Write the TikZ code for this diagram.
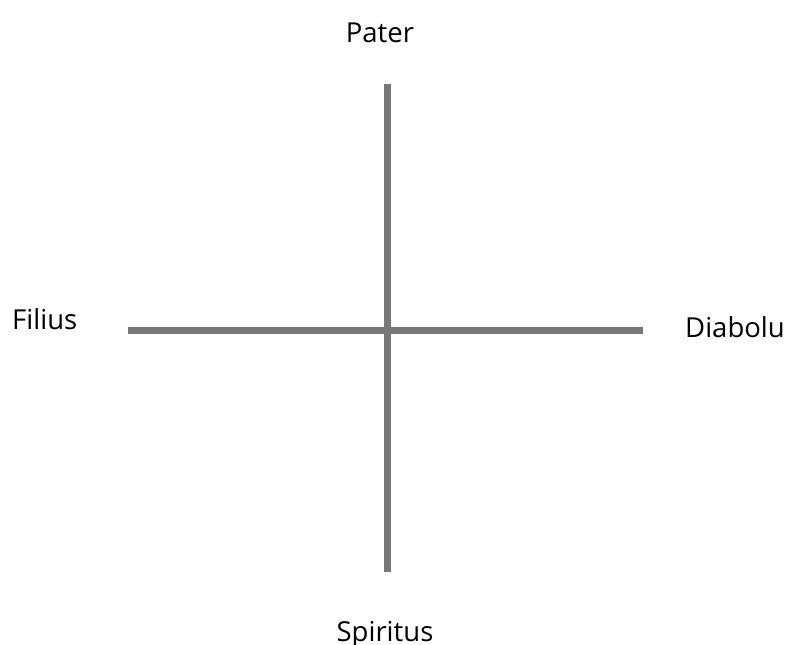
\documentclass[tikz,border=0pt]{standalone}
\usepackage{fontspec}
\setmainfont{Open Sans}
\definecolor{axisgray}{HTML}{787878}
\begin{document}
\begin{tikzpicture}[x=1pt,y=-1pt,
  axis/.style={draw=axisgray,line width=7pt},
  lbl/.style={inner sep=0pt,font=\fontsize{27.5}{32}\selectfont,text=black}]
\useasboundingbox (0,0) rectangle (787,645);
\clip (0,0) rectangle (787,645);
\fill[white] (0,0) rectangle (787,645);
\coordinate (top) at (387,84);
\coordinate (bottom) at (387,572);
\coordinate (left) at (128,330);
\coordinate (right) at (643,330);
\draw[axis] (left) -- (right);
\draw[axis] (top) -- (bottom);
\node[lbl,anchor=base] (pater) at (380,42) {Pater};
\node[lbl,anchor=base west] (filius) at (12,329) {Filius};
\node[lbl,anchor=base west] (diabolu) at (685,337) {Diabolu};
\node[lbl,anchor=base] (spiritus) at (385,641) {Spiritus};
\end{tikzpicture}
\end{document}
